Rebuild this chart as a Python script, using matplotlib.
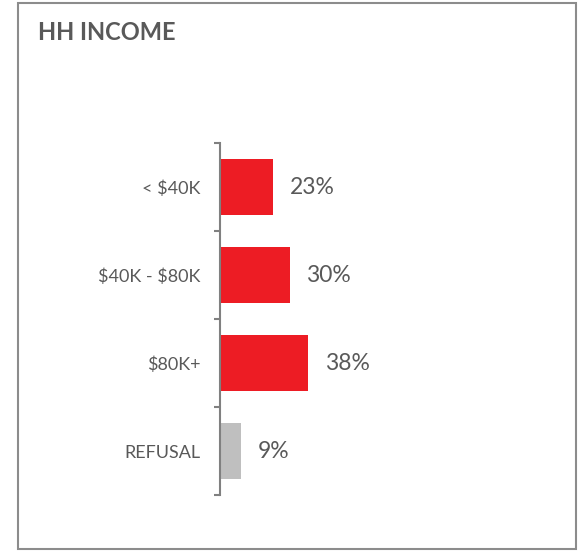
import matplotlib.pyplot as plt
from matplotlib.patches import Rectangle

plt.rcParams['font.family'] = ['Lato', 'DejaVu Sans']
plt.rcParams['text.parse_math'] = False

# Data
categories = ['< $40K', '$40K - $80K', '$80K+', 'REFUSAL']
values = [23, 30, 38, 9]
bar_colors = ['#ED1C24', '#ED1C24', '#ED1C24', '#BFBFBF']

text_grey = '#595959'

W, H = 581, 551
fig = plt.figure(figsize=(W / 100, H / 100), dpi=100)

# outer frame
fig.patches.append(Rectangle((18 / W, 2 / H), 558 / W, 546 / H, transform=fig.transFigure,
                             fill=False, edgecolor='#8C8C8C', linewidth=1.5))

fig.text(38 / W, 1 - 33 / H, 'HH INCOME', fontsize=17, fontweight='bold',
         color=text_grey, va='center', ha='left')

ax = fig.add_axes([220 / W, (H - 495) / H, 356 / W, 352 / H])
y = list(range(len(categories)))
ax.barh(y, values, height=0.64, color=bar_colors)
ax.set_ylim(len(categories) - 0.5, -0.5)
ax.set_xlim(0, 356 / 2.32)

for yi, v in zip(y, values):
    ax.annotate(f'{v}%', (v, yi), xytext=(12, 0), textcoords='offset points',
                va='center', ha='left', fontsize=16.5, color=text_grey)

for s in ['top', 'right', 'bottom']:
    ax.spines[s].set_visible(False)
ax.spines['left'].set_color('#808080')
ax.spines['left'].set_linewidth(1.5)

ax.set_xticks([])
ax.set_yticks(y)
ax.set_yticklabels(categories, fontsize=13, color=text_grey)
ax.tick_params(axis='y', which='major', length=0, pad=14)
ax.set_yticks([i - 0.5 for i in range(len(categories) + 1)], minor=True)
ax.tick_params(axis='y', which='minor', length=4, width=1.5, color='#808080')

fig.savefig('out.png', dpi=100)
